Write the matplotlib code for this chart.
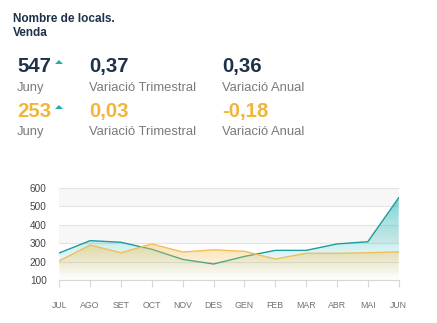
import matplotlib
matplotlib.use('Agg')
import matplotlib.pyplot as plt
import numpy as np
from matplotlib.colors import to_rgb
from matplotlib.patches import Polygon

months = ['JUL', 'AGO', 'SET', 'OCT', 'NOV', 'DES', 'GEN', 'FEB', 'MAR', 'ABR', 'MAI', 'JUN']
teal_vals = [247, 314, 305, 267, 212, 187, 228, 261, 261, 296, 308, 547]
gold_vals = [204, 290, 248, 296, 252, 264, 256, 214, 245, 245, 248, 253]
y_ticks = [100, 200, 300, 400, 500, 600]

title_lines = ['Nombre de locals.', 'Venda']
row1 = ['547', '0,37', '0,36']
row2 = ['253', '0,03', '-0,18']
sub_labels = ['Juny', 'Variació Trimestral', 'Variació Anual']

navy = '#1d3149'
teal = '#1f9c9c'
gold = '#f2b53c'
grey = '#7a7a7a'

plt.rcParams['font.family'] = ['Liberation Sans', 'DejaVu Sans']

W, H = 437, 323
fig = plt.figure(figsize=(W / 100, H / 100), dpi=100)
fig.patch.set_facecolor('white')

def px(x, y):
    return x / W, 1 - y / H

# header texts
fig.text(*px(13, 22), title_lines[0], fontsize=8.5, fontweight='bold', color=navy)
fig.text(*px(13, 36), title_lines[1], fontsize=8.5, fontweight='bold', color=navy)

cols = [17, 89, 222]
for i, (a, b) in enumerate(zip(row1, row2)):
    fig.text(*px(cols[i], 72), a, fontsize=14.7, fontweight='bold', color=navy)
    fig.text(*px(cols[i], 117), b, fontsize=14.7, fontweight='bold', color=gold)
    fig.text(*px(cols[i], 91), sub_labels[i], fontsize=9.4, color=grey)
    fig.text(*px(cols[i], 135), sub_labels[i], fontsize=9.4, color=grey)

# small up arrows next to the June values
for yy in (64, 109):
    tri = Polygon([px(55, yy), px(63, yy), px(59, yy - 4)], closed=True,
                  transform=fig.transFigure, color='#1fb0a8', lw=0)
    fig.add_artist(tri)

ax = fig.add_axes([59.3 / W, 1 - 280 / H, (398.7 - 59.3) / W, (280 - 188) / H])
x = np.arange(len(months))

# alternating bands and grid
for lo in (300, 500):
    ax.axhspan(lo, lo + 100, color='#f7f7f7', zorder=0, lw=0)
for t in y_ticks:
    ax.axhline(t, color='#e4e4e4', lw=0.8, zorder=1)

def grad_fill(vals, color, top_alpha, power, z):
    r, g, b = to_rgb(color)
    n = 256
    a = top_alpha * np.linspace(0, 1, n) ** power
    img = np.zeros((n, 1, 4))
    img[..., 0], img[..., 1], img[..., 2] = r, g, b
    img[..., 3] = a.reshape(-1, 1)
    top = max(vals)
    im = ax.imshow(img, extent=[0, len(vals) - 1, 100, top], origin='lower',
                   aspect='auto', zorder=z, interpolation='bilinear')
    poly = ax.fill_between(x, vals, 100, color='none', lw=0)
    im.set_clip_path(poly.get_paths()[0], transform=ax.transData)

grad_fill(teal_vals, '#2bb8b8', 0.62, 1.2, 2)
ax.plot(x, teal_vals, color=teal, lw=1, zorder=3)
grad_fill(gold_vals, '#f5c25a', 0.5, 1.0, 4)
ax.plot(x, gold_vals, color='#f0bf5a', lw=1, zorder=5)
ax.set_xlim(0, len(months) - 1)
ax.set_ylim(100, 600)

ax.set_yticks(y_ticks)
ax.set_yticklabels([str(t) for t in y_ticks], fontsize=7.2, color='#444444')
ax.set_xticks(x)
ax.set_xticklabels(months, fontsize=6.3, color='#707070')
ax.tick_params(axis='y', length=0, pad=9)
ax.tick_params(axis='x', length=5, color='#d8d8d8', pad=10, width=0.8)
for s in ['top', 'right', 'left']:
    ax.spines[s].set_visible(False)
ax.spines['bottom'].set_color('#d8d8d8')
ax.spines['bottom'].set_linewidth(0.8)

fig.savefig('out.png', dpi=100)
